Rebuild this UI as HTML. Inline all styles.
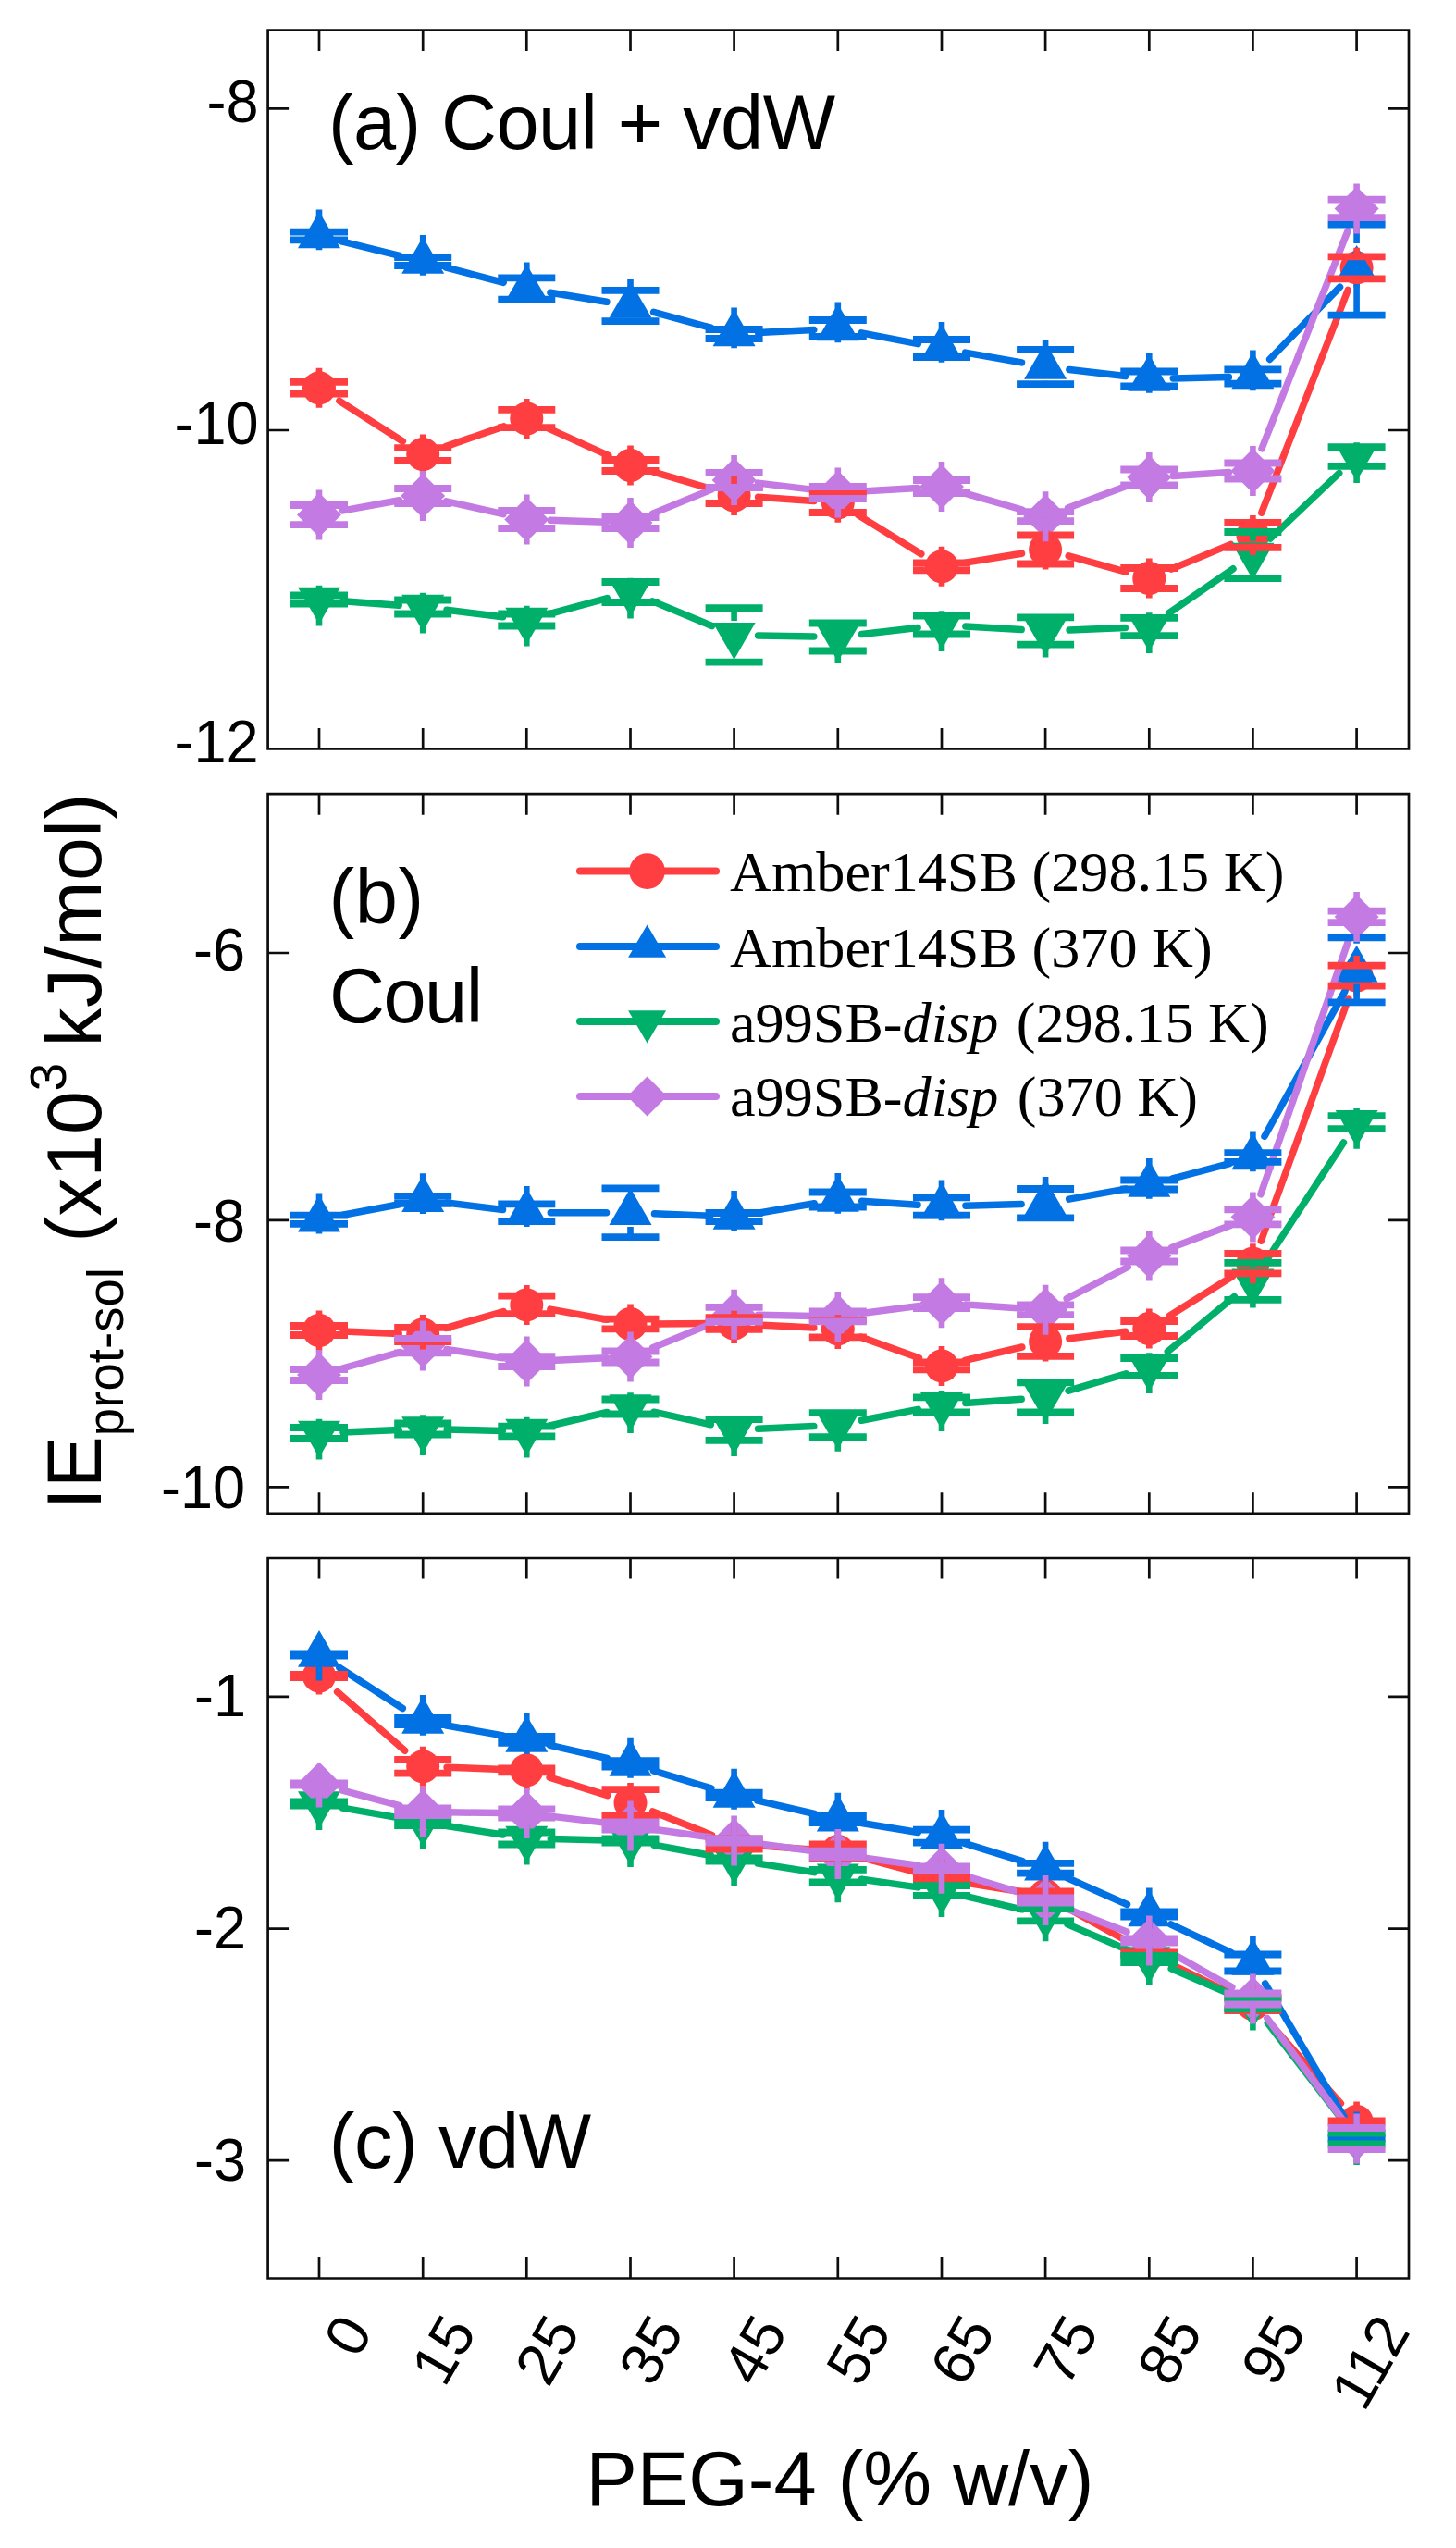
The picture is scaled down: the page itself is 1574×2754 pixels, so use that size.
<!DOCTYPE html>
<html lang="en">
<head>
<meta charset="utf-8">
<title>IE prot-sol vs PEG-4</title>
<style>
html,body{margin:0;padding:0;background:#fff}
body{width:1574px;height:2754px;overflow:hidden}
svg{display:block;filter:blur(0.7px)}
text{font-family:"Liberation Sans",Arial,sans-serif;fill:#000}
.tk{font-size:63px}
.xt{font-size:64px}
.ttl{font-size:83px}
.ax{font-size:83px}
.ay{font-size:84px}
.sub{font-size:54.6px}
.leg{font-family:"Liberation Serif","Times New Roman",serif;font-size:62.2px}
</style>
</head>
<body>
<svg width="1574" height="2754" viewBox="0 0 1574 2754">
<rect width="1574" height="2754" fill="#fff"/>
<g id="panel-a">
<g>
<path d="M366.9 433.3L435.3 477M481.8 482.6L544.7 460.9M593 463.2L657.8 492.3M706.5 510.2L768.7 528.3M819.6 537.3L879.9 541.5M927.9 556.9L995.8 598.7M1043.6 608.1L1104.5 598.2M1155.2 600.9L1217.2 618.1M1266.3 615L1330.4 588.4M1363.8 554.2L1457.2 313.5" stroke="#FE3E40" stroke-width="7.5" fill="none" stroke-linecap="round"/>
<g><circle cx="345" cy="419.3" r="18" fill="#FE3E40"/><circle cx="457.2" cy="491" r="18" fill="#FE3E40"/><circle cx="569.3" cy="452.5" r="18" fill="#FE3E40"/><circle cx="681.5" cy="503" r="18" fill="#FE3E40"/><circle cx="793.6" cy="535.5" r="18" fill="#FE3E40"/><circle cx="905.8" cy="543.3" r="18" fill="#FE3E40"/><circle cx="1018" cy="612.3" r="18" fill="#FE3E40"/><circle cx="1130.1" cy="594" r="18" fill="#FE3E40"/><circle cx="1242.3" cy="625" r="18" fill="#FE3E40"/><circle cx="1354.4" cy="578.4" r="18" fill="#FE3E40"/><circle cx="1466.6" cy="289.3" r="18" fill="#FE3E40"/></g>
<path d="M370.3 261.2L431.9 276.3M482.3 289.1L544.2 305.4M595 316.2L655.8 326.3M706.6 337.3L768.6 354.2M819.6 359.6L879.8 356.4M931.3 359.9L992.4 371.6M1043.6 381.1L1104.5 391.9M1155.9 399.5L1216.5 406.5M1268.3 408.9L1328.4 407.6M1372.6 388.4L1448.5 310.2" stroke="#0171E3" stroke-width="7.5" fill="none" stroke-linecap="round"/>
<g><polygon points="345,228.4 322,268.3 368,268.3" fill="#0171E3"/><polygon points="457.2,255.9 434.2,295.8 480.2,295.8" fill="#0171E3"/><polygon points="569.3,285.4 546.3,325.3 592.3,325.3" fill="#0171E3"/><polygon points="681.5,303.9 658.5,343.8 704.5,343.8" fill="#0171E3"/><polygon points="793.6,334.4 770.6,374.3 816.6,374.3" fill="#0171E3"/><polygon points="905.8,328.4 882.8,368.3 928.8,368.3" fill="#0171E3"/><polygon points="1018,349.9 995,389.8 1041,389.8" fill="#0171E3"/><polygon points="1130.1,369.9 1107.1,409.8 1153.1,409.8" fill="#0171E3"/><polygon points="1242.3,382.9 1219.3,422.8 1265.3,422.8" fill="#0171E3"/><polygon points="1354.4,380.4 1331.4,420.3 1377.4,420.3" fill="#0171E3"/><polygon points="1466.6,265 1443.6,304.9 1489.6,304.9" fill="#0171E3"/></g>
<path d="M370.9 649.8L431.2 654.2M483 659.2L543.5 666.8M594.4 663.3L656.4 646.7M705.5 649.9L769.6 676.5M819.6 686.9L879.8 688M931.6 685.5L992.1 678.5M1043.9 677L1104.2 680.5M1156.1 681L1216.3 678.5M1263.7 662.7L1333 614.8M1373.3 582.1L1447.7 511.4" stroke="#00AF69" stroke-width="7.5" fill="none" stroke-linecap="round"/>
<g><polygon points="345,674.6 322,634.7 368,634.7" fill="#00AF69"/><polygon points="457.2,682.6 434.2,642.7 480.2,642.7" fill="#00AF69"/><polygon points="569.3,696.6 546.3,656.7 592.3,656.7" fill="#00AF69"/><polygon points="681.5,666.6 658.5,626.7 704.5,626.7" fill="#00AF69"/><polygon points="793.6,713 770.6,673.1 816.6,673.1" fill="#00AF69"/><polygon points="905.8,715.1 882.8,675.2 928.8,675.2" fill="#00AF69"/><polygon points="1018,702.1 995,662.2 1041,662.2" fill="#00AF69"/><polygon points="1130.1,708.6 1107.1,668.7 1153.1,668.7" fill="#00AF69"/><polygon points="1242.3,704.1 1219.3,664.2 1265.3,664.2" fill="#00AF69"/><polygon points="1354.4,626.6 1331.4,586.7 1377.4,586.7" fill="#00AF69"/><polygon points="1466.6,520.1 1443.6,480.2 1489.6,480.2" fill="#00AF69"/></g>
<path d="M370.6 551.9L431.6 540.7M482.5 541.8L544 555.7M595.3 562.3L655.5 564.2M705.5 555.1L769.6 528.9M819.5 522.1L880 529.4M931.8 531L992 527.5M1043 533.2L1105.1 551M1154.5 549L1217.9 525.2M1268.2 514.4L1328.5 510.6M1364 484.8L1457 249.6" stroke="#C37AE2" stroke-width="7.5" fill="none" stroke-linecap="round"/>
<g><polygon points="345,532.6 369,556.6 345,580.6 321,556.6" fill="#C37AE2"/><polygon points="457.2,512 481.2,536 457.2,560 433.2,536" fill="#C37AE2"/><polygon points="569.3,537.5 593.3,561.5 569.3,585.5 545.3,561.5" fill="#C37AE2"/><polygon points="681.5,541 705.5,565 681.5,589 657.5,565" fill="#C37AE2"/><polygon points="793.6,495 817.6,519 793.6,543 769.6,519" fill="#C37AE2"/><polygon points="905.8,508.5 929.8,532.5 905.8,556.5 881.8,532.5" fill="#C37AE2"/><polygon points="1018,502 1042,526 1018,550 994,526" fill="#C37AE2"/><polygon points="1130.1,534.2 1154.1,558.2 1130.1,582.2 1106.1,558.2" fill="#C37AE2"/><polygon points="1242.3,492 1266.3,516 1242.3,540 1218.3,516" fill="#C37AE2"/><polygon points="1354.4,485 1378.4,509 1354.4,533 1330.4,509" fill="#C37AE2"/><polygon points="1466.6,201.4 1490.6,225.4 1466.6,249.4 1442.6,225.4" fill="#C37AE2"/></g>
<path d="M314 412.9H376M314 425.7H376M426.2 484.2H488.2M426.2 497.8H488.2M538.3 442.9H600.3M538.3 462.1H600.3M650.5 497H712.5M650.5 509H712.5M762.6 527H824.6M762.6 544H824.6M874.8 532.6H936.8M874.8 554H936.8M987 608.3H1049M987 616.3H1049M1099.1 578.5H1161.1M1099.1 609.5H1161.1M1211.3 614H1273.3M1211.3 636H1273.3M1323.4 565H1385.4M1323.4 591.8H1385.4M1435.6 277.3H1497.6M1435.6 301.3H1497.6" stroke="#FE3E40" stroke-width="7.8" fill="none"/>
<path d="M345 412.9V397.8M345 425.7V440.8M457.2 484.2V469.5M457.2 497.8V512.5M569.3 442.9V431M569.3 462.1V474M681.5 497V481.5M681.5 509V524.5M793.6 527V514M793.6 544V557M905.8 532.6V521.8M905.8 554V564.8M1018 608.3V590.8M1018 616.3V633.8M1130.1 578.5V572.5M1130.1 609.5V615.5M1242.3 614V603.5M1242.3 636V646.5M1354.4 565V556.9M1354.4 591.8V599.9M1466.6 277.3V267.8M1466.6 301.3V310.8" stroke="#FE3E40" stroke-width="6.6" fill="none"/>
<path d="M314 250.7H376M314 259.3H376M426.2 278H488.2M426.2 287H488.2M538.3 300.4H600.3M538.3 323.6H600.3M650.5 313.9H712.5M650.5 347.1H712.5M762.6 356H824.6M762.6 366H824.6M874.8 346H936.8M874.8 364H936.8M987 367H1049M987 386H1049M1099.1 377.8H1161.1M1099.1 415.2H1161.1M1211.3 401.5H1273.3M1211.3 417.5H1273.3M1323.4 399.3H1385.4M1323.4 414.7H1385.4M1435.6 242.6H1497.6M1435.6 340.6H1497.6" stroke="#0171E3" stroke-width="7.8" fill="none"/>
<path d="M345 250.7V226.4M345 259.3V270.3M457.2 278V253.9M457.2 287V297.8M569.3 300.4V283.4M569.3 323.6V327.3M681.5 313.9V301.9M681.5 347.1V345.8M793.6 356V332.4M793.6 366V376.3M905.8 346V326.4M905.8 364V370.3M1018 367V347.9M1018 386V391.8M1130.1 377.8V367.9M1130.1 415.2V411.8M1242.3 401.5V380.9M1242.3 417.5V424.8M1354.4 399.3V378.4M1354.4 414.7V422.3M1466.6 242.6V263M1466.6 340.6V306.9" stroke="#0171E3" stroke-width="6.6" fill="none"/>
<path d="M314 643.5H376M314 652.5H376M426.2 648.5H488.2M426.2 663.5H488.2M538.3 663.5H600.3M538.3 676.5H600.3M650.5 629H712.5M650.5 651H712.5M762.6 657.1H824.6M762.6 715.7H824.6M874.8 673.5H936.8M874.8 703.5H936.8M987 665.5H1049M987 685.5H1049M1099.1 667.4H1161.1M1099.1 696.6H1161.1M1211.3 667.9H1273.3M1211.3 687.1H1273.3M1323.4 575H1385.4M1323.4 625H1385.4M1435.6 483.1H1497.6M1435.6 503.9H1497.6" stroke="#00AF69" stroke-width="7.8" fill="none"/>
<path d="M345 643.5V632.7M345 652.5V676.6M457.2 648.5V640.7M457.2 663.5V684.6M569.3 663.5V654.7M569.3 676.5V698.6M681.5 629V624.7M681.5 651V668.6M793.6 657.1V671.1M793.6 715.7V715M905.8 673.5V673.2M905.8 703.5V717.1M1018 665.5V660.2M1018 685.5V704.1M1130.1 667.4V666.7M1130.1 696.6V710.6M1242.3 667.9V662.2M1242.3 687.1V706.1M1354.4 575V584.7M1354.4 625V628.6M1466.6 483.1V478.2M1466.6 503.9V522.1" stroke="#00AF69" stroke-width="6.6" fill="none"/>
<path d="M314 546H376M314 567.2H376M426.2 528H488.2M426.2 544H488.2M538.3 552H600.3M538.3 571H600.3M650.5 559H712.5M650.5 571H712.5M762.6 511H824.6M762.6 527H824.6M874.8 526H936.8M874.8 539H936.8M987 519H1049M987 533H1049M1099.1 553.2H1161.1M1099.1 563.2H1161.1M1211.3 507.5H1273.3M1211.3 524.5H1273.3M1323.4 500.5H1385.4M1323.4 517.5H1385.4M1435.6 215.6H1497.6M1435.6 235.2H1497.6" stroke="#C37AE2" stroke-width="7.8" fill="none"/>
<path d="M345 546V529.6M345 567.2V583.6M457.2 528V509M457.2 544V563M569.3 552V534.5M569.3 571V588.5M681.5 559V538M681.5 571V592M793.6 511V492M793.6 527V546M905.8 526V505.5M905.8 539V559.5M1018 519V499M1018 533V553M1130.1 553.2V531.2M1130.1 563.2V585.2M1242.3 507.5V489M1242.3 524.5V543M1354.4 500.5V482M1354.4 517.5V536M1466.6 215.6V198.4M1466.6 235.2V252.4" stroke="#C37AE2" stroke-width="6.6" fill="none"/>
</g>
<path d="M289.6 32.5H1523V809.4H289.6ZM345 32.5v22.5M345 809.4v-22.5M457.2 32.5v22.5M457.2 809.4v-22.5M569.3 32.5v22.5M569.3 809.4v-22.5M681.5 32.5v22.5M681.5 809.4v-22.5M793.6 32.5v22.5M793.6 809.4v-22.5M905.8 32.5v22.5M905.8 809.4v-22.5M1018 32.5v22.5M1018 809.4v-22.5M1130.1 32.5v22.5M1130.1 809.4v-22.5M1242.3 32.5v22.5M1242.3 809.4v-22.5M1354.4 32.5v22.5M1354.4 809.4v-22.5M1466.6 32.5v22.5M1466.6 809.4v-22.5M289.6 117.4h22.5M1523 117.4h-22.5M289.6 465h22.5M1523 465h-22.5" stroke="#0d0d0d" stroke-width="2.7" fill="none" stroke-linejoin="miter"/>
<text transform="translate(279.5 132) scale(1 1.03)" class="tk" text-anchor="end">-8</text>
<text transform="translate(279.5 479.5) scale(1 1.03)" class="tk" text-anchor="end">-10</text>
<text transform="translate(279.5 823.8) scale(1 1.03)" class="tk" text-anchor="end">-12</text>
</g>
<g id="panel-b">
<g>
<path d="M371 1439L431.2 1441.5M482.2 1435.3L544.3 1417.6M594.9 1415.1L655.9 1426.3M707.5 1430.9L767.6 1430.6M819.6 1431.9L879.8 1435M930.3 1445.1L993.5 1467.7M1043.3 1470.4L1104.8 1456M1155.9 1446.8L1216.5 1439.2M1264.3 1422.2L1332.4 1379.5M1363.3 1341.2L1457.8 1079.1" stroke="#FE3E40" stroke-width="7.5" fill="none" stroke-linecap="round"/>
<g><circle cx="345" cy="1438" r="18" fill="#FE3E40"/><circle cx="457.2" cy="1442.5" r="18" fill="#FE3E40"/><circle cx="569.3" cy="1410.4" r="18" fill="#FE3E40"/><circle cx="681.5" cy="1431" r="18" fill="#FE3E40"/><circle cx="793.6" cy="1430.5" r="18" fill="#FE3E40"/><circle cx="905.8" cy="1436.4" r="18" fill="#FE3E40"/><circle cx="1018" cy="1476.4" r="18" fill="#FE3E40"/><circle cx="1130.1" cy="1450" r="18" fill="#FE3E40"/><circle cx="1242.3" cy="1436" r="18" fill="#FE3E40"/><circle cx="1354.4" cy="1365.7" r="18" fill="#FE3E40"/><circle cx="1466.6" cy="1054.6" r="18" fill="#FE3E40"/></g>
<path d="M370.5 1313.3L431.6 1301.7M483 1300L543.5 1307.5M595.3 1310.7L655.5 1310.7M707.5 1311.8L767.7 1314.4M819.3 1311.2L880.2 1300.8M931.7 1298.2L992 1302.3M1043.9 1303.2L1104.1 1301.5M1155.7 1296.1L1216.7 1285.1M1267.4 1273.9L1329.3 1257.6M1367 1228.3L1454 1071.1" stroke="#0171E3" stroke-width="7.5" fill="none" stroke-linecap="round"/>
<g><polygon points="345,1291.6 322,1331.5 368,1331.5" fill="#0171E3"/><polygon points="457.2,1270.2 434.2,1310.1 480.2,1310.1" fill="#0171E3"/><polygon points="569.3,1284.1 546.3,1324 592.3,1324" fill="#0171E3"/><polygon points="681.5,1284.1 658.5,1324 704.5,1324" fill="#0171E3"/><polygon points="793.6,1288.9 770.6,1328.8 816.6,1328.8" fill="#0171E3"/><polygon points="905.8,1269.9 882.8,1309.8 928.8,1309.8" fill="#0171E3"/><polygon points="1018,1277.4 995,1317.3 1041,1317.3" fill="#0171E3"/><polygon points="1130.1,1274.1 1107.1,1314 1153.1,1314" fill="#0171E3"/><polygon points="1242.3,1253.9 1219.3,1293.8 1265.3,1293.8" fill="#0171E3"/><polygon points="1354.4,1224.4 1331.4,1264.3 1377.4,1264.3" fill="#0171E3"/><polygon points="1466.6,1021.8 1443.6,1061.7 1489.6,1061.7" fill="#0171E3"/></g>
<path d="M371 1548L431.2 1545.5M483.2 1545.1L543.3 1546.4M594.6 1541L656.2 1526.5M706.9 1526.2L768.3 1539.8M819.6 1544.3L879.8 1541.4M931.3 1535.2L992.4 1523.4M1043.9 1516.6L1104.2 1512.2M1155.1 1503.1L1217.3 1484.8M1262.3 1460.9L1334.4 1401.4M1368.7 1363L1452.4 1235" stroke="#00AF69" stroke-width="7.5" fill="none" stroke-linecap="round"/>
<g><polygon points="345,1575.6 322,1535.7 368,1535.7" fill="#00AF69"/><polygon points="457.2,1571.1 434.2,1531.2 480.2,1531.2" fill="#00AF69"/><polygon points="569.3,1573.6 546.3,1533.7 592.3,1533.7" fill="#00AF69"/><polygon points="681.5,1547.1 658.5,1507.2 704.5,1507.2" fill="#00AF69"/><polygon points="793.6,1572.1 770.6,1532.2 816.6,1532.2" fill="#00AF69"/><polygon points="905.8,1566.8 882.8,1526.9 928.8,1526.9" fill="#00AF69"/><polygon points="1018,1545 995,1505.1 1041,1505.1" fill="#00AF69"/><polygon points="1130.1,1537 1107.1,1497.1 1153.1,1497.1" fill="#00AF69"/><polygon points="1242.3,1504.1 1219.3,1464.2 1265.3,1464.2" fill="#00AF69"/><polygon points="1354.4,1411.4 1331.4,1371.5 1377.4,1371.5" fill="#00AF69"/><polygon points="1466.6,1239.8 1443.6,1199.9 1489.6,1199.9" fill="#00AF69"/></g>
<path d="M370 1479L432.1 1461.6M482.9 1458.5L543.6 1467.7M595.3 1470.4L655.5 1467.7M705.6 1456.7L769.6 1430.5M819.6 1421.2L879.8 1422.4M931.6 1419.5L992.2 1411.6M1043.9 1409.9L1104.2 1414M1153.2 1403.7L1219.2 1369.5M1266.6 1348.4L1330.1 1324.5M1362.9 1290.8L1458.1 1015.5" stroke="#C37AE2" stroke-width="7.5" fill="none" stroke-linecap="round"/>
<g><polygon points="345,1462 369,1486 345,1510 321,1486" fill="#C37AE2"/><polygon points="457.2,1430.6 481.2,1454.6 457.2,1478.6 433.2,1454.6" fill="#C37AE2"/><polygon points="569.3,1447.6 593.3,1471.6 569.3,1495.6 545.3,1471.6" fill="#C37AE2"/><polygon points="681.5,1442.5 705.5,1466.5 681.5,1490.5 657.5,1466.5" fill="#C37AE2"/><polygon points="793.6,1396.7 817.6,1420.7 793.6,1444.7 769.6,1420.7" fill="#C37AE2"/><polygon points="905.8,1398.9 929.8,1422.9 905.8,1446.9 881.8,1422.9" fill="#C37AE2"/><polygon points="1018,1384.2 1042,1408.2 1018,1432.2 994,1408.2" fill="#C37AE2"/><polygon points="1130.1,1391.7 1154.1,1415.7 1130.1,1439.7 1106.1,1415.7" fill="#C37AE2"/><polygon points="1242.3,1333.5 1266.3,1357.5 1242.3,1381.5 1218.3,1357.5" fill="#C37AE2"/><polygon points="1354.4,1291.4 1378.4,1315.4 1354.4,1339.4 1330.4,1315.4" fill="#C37AE2"/><polygon points="1466.6,966.9 1490.6,990.9 1466.6,1014.9 1442.6,990.9" fill="#C37AE2"/></g>
<path d="M314 1433H376M314 1443H376M426.2 1434.9H488.2M426.2 1450.1H488.2M538.3 1400.6H600.3M538.3 1420.2H600.3M650.5 1425.6H712.5M650.5 1436.4H712.5M762.6 1424.2H824.6M762.6 1436.8H824.6M874.8 1427.4H936.8M874.8 1445.4H936.8M987 1472.4H1049M987 1480.4H1049M1099.1 1434.2H1161.1M1099.1 1465.8H1161.1M1211.3 1428H1273.3M1211.3 1444H1273.3M1323.4 1355H1385.4M1323.4 1376.4H1385.4M1435.6 1043.6H1497.6M1435.6 1065.6H1497.6" stroke="#FE3E40" stroke-width="7.8" fill="none"/>
<path d="M345 1433V1416.5M345 1443V1459.5M457.2 1434.9V1421M457.2 1450.1V1464M569.3 1400.6V1388.9M569.3 1420.2V1431.9M681.5 1425.6V1409.5M681.5 1436.4V1452.5M793.6 1424.2V1409M793.6 1436.8V1452M905.8 1427.4V1414.9M905.8 1445.4V1457.9M1018 1472.4V1454.9M1018 1480.4V1497.9M1130.1 1434.2V1428.5M1130.1 1465.8V1471.5M1242.3 1428V1414.5M1242.3 1444V1457.5M1354.4 1355V1344.2M1354.4 1376.4V1387.2M1466.6 1043.6V1033.1M1466.6 1065.6V1076.1" stroke="#FE3E40" stroke-width="6.6" fill="none"/>
<path d="M314 1313.6H376M314 1322.8H376M426.2 1292.8H488.2M426.2 1300.8H488.2M538.3 1301.4H600.3M538.3 1320H600.3M650.5 1284.3H712.5M650.5 1337.1H712.5M762.6 1311H824.6M762.6 1320H824.6M874.8 1288.5H936.8M874.8 1304.5H936.8M987 1294.4H1049M987 1313.6H1049M1099.1 1285H1161.1M1099.1 1316.4H1161.1M1211.3 1275.5H1273.3M1211.3 1285.5H1273.3M1323.4 1246.2H1385.4M1323.4 1255.8H1385.4M1435.6 1013.4H1497.6M1435.6 1083.4H1497.6" stroke="#0171E3" stroke-width="7.8" fill="none"/>
<path d="M345 1313.6V1289.6M345 1322.8V1333.5M457.2 1292.8V1268.2M457.2 1300.8V1312.1M569.3 1301.4V1282.1M569.3 1320V1326M681.5 1284.3V1282.1M681.5 1337.1V1326M793.6 1311V1286.9M793.6 1320V1330.8M905.8 1288.5V1267.9M905.8 1304.5V1311.8M1018 1294.4V1275.4M1018 1313.6V1319.3M1130.1 1285V1272.1M1130.1 1316.4V1316M1242.3 1275.5V1251.9M1242.3 1285.5V1295.8M1354.4 1246.2V1222.4M1354.4 1255.8V1266.3M1466.6 1013.4V1019.8M1466.6 1083.4V1063.7" stroke="#0171E3" stroke-width="6.6" fill="none"/>
<path d="M314 1543H376M314 1555H376M426.2 1538.5H488.2M426.2 1550.5H488.2M538.3 1541.6H600.3M538.3 1552.4H600.3M650.5 1512.5H712.5M650.5 1528.5H712.5M762.6 1534.2H824.6M762.6 1556.8H824.6M874.8 1527.2H936.8M874.8 1553.2H936.8M987 1510.4H1049M987 1526.4H1049M1099.1 1494.4H1161.1M1099.1 1526.4H1161.1M1211.3 1468H1273.3M1211.3 1487H1273.3M1323.4 1364.8H1385.4M1323.4 1404.8H1385.4M1435.6 1206.2H1497.6M1435.6 1220.2H1497.6" stroke="#00AF69" stroke-width="7.8" fill="none"/>
<path d="M345 1543V1533.7M345 1555V1577.6M457.2 1538.5V1529.2M457.2 1550.5V1573.1M569.3 1541.6V1531.7M569.3 1552.4V1575.6M681.5 1512.5V1505.2M681.5 1528.5V1549.1M793.6 1534.2V1530.2M793.6 1556.8V1574.1M905.8 1527.2V1524.9M905.8 1553.2V1568.8M1018 1510.4V1503.1M1018 1526.4V1547M1130.1 1494.4V1495.1M1130.1 1526.4V1539M1242.3 1468V1462.2M1242.3 1487V1506.1M1354.4 1364.8V1369.5M1354.4 1404.8V1413.4M1466.6 1206.2V1197.9M1466.6 1220.2V1241.8" stroke="#00AF69" stroke-width="6.6" fill="none"/>
<path d="M314 1480H376M314 1492H376M426.2 1446.9H488.2M426.2 1462.3H488.2M538.3 1466.2H600.3M538.3 1477H600.3M650.5 1460.5H712.5M650.5 1472.5H712.5M762.6 1412.8H824.6M762.6 1428.6H824.6M874.8 1417.4H936.8M874.8 1428.4H936.8M987 1402.2H1049M987 1414.2H1049M1099.1 1410.3H1161.1M1099.1 1421.1H1161.1M1211.3 1351.5H1273.3M1211.3 1363.5H1273.3M1323.4 1307.4H1385.4M1323.4 1323.4H1385.4M1435.6 984.6H1497.6M1435.6 997.1H1497.6" stroke="#C37AE2" stroke-width="7.8" fill="none"/>
<path d="M345 1480V1459M345 1492V1513M457.2 1446.9V1427.6M457.2 1462.3V1481.6M569.3 1466.2V1444.6M569.3 1477V1498.6M681.5 1460.5V1439.5M681.5 1472.5V1493.5M793.6 1412.8V1393.7M793.6 1428.6V1447.7M905.8 1417.4V1395.9M905.8 1428.4V1449.9M1018 1402.2V1381.2M1018 1414.2V1435.2M1130.1 1410.3V1388.7M1130.1 1421.1V1442.7M1242.3 1351.5V1330.5M1242.3 1363.5V1384.5M1354.4 1307.4V1288.4M1354.4 1323.4V1342.4M1466.6 984.6V963.9M1466.6 997.1V1017.9" stroke="#C37AE2" stroke-width="6.6" fill="none"/>
</g>
<path d="M289.6 858.2H1523V1635.8H289.6ZM345 858.2v22.5M345 1635.8v-22.5M457.2 858.2v22.5M457.2 1635.8v-22.5M569.3 858.2v22.5M569.3 1635.8v-22.5M681.5 858.2v22.5M681.5 1635.8v-22.5M793.6 858.2v22.5M793.6 1635.8v-22.5M905.8 858.2v22.5M905.8 1635.8v-22.5M1018 858.2v22.5M1018 1635.8v-22.5M1130.1 858.2v22.5M1130.1 1635.8v-22.5M1242.3 858.2v22.5M1242.3 1635.8v-22.5M1354.4 858.2v22.5M1354.4 1635.8v-22.5M1466.6 858.2v22.5M1466.6 1635.8v-22.5M289.6 1030h22.5M1523 1030h-22.5M289.6 1318.8h22.5M1523 1318.8h-22.5M289.6 1607.4h22.5M1523 1607.4h-22.5" stroke="#0d0d0d" stroke-width="2.7" fill="none" stroke-linejoin="miter"/>
<text transform="translate(265 1049) scale(1 1.03)" class="tk" text-anchor="end">-6</text>
<text transform="translate(265 1341.5) scale(1 1.03)" class="tk" text-anchor="end">-8</text>
<text transform="translate(265 1630) scale(1 1.03)" class="tk" text-anchor="end">-10</text>
</g>
<g id="panel-c">
<g>
<path d="M364.6 1828.6L437.6 1892.2M483.1 1910.2L543.3 1912.4M594.1 1921.1L656.7 1940.6M705.6 1958L769.5 1983.4M819.6 1994.8L879.9 1999.2M930.9 2007.7L992.8 2024.1M1043.6 2035L1104.5 2044.8M1152.8 2061.7L1219.6 2098.8M1265.7 2122.9L1331.1 2154.6M1371.7 2185.5L1449.4 2273.5" stroke="#FE3E40" stroke-width="7.5" fill="none" stroke-linecap="round"/>
<g><circle cx="345" cy="1811.5" r="18" fill="#FE3E40"/><circle cx="457.2" cy="1909.3" r="18" fill="#FE3E40"/><circle cx="569.3" cy="1913.3" r="18" fill="#FE3E40"/><circle cx="681.5" cy="1948.4" r="18" fill="#FE3E40"/><circle cx="793.6" cy="1993" r="18" fill="#FE3E40"/><circle cx="905.8" cy="2001" r="18" fill="#FE3E40"/><circle cx="1018" cy="2030.8" r="18" fill="#FE3E40"/><circle cx="1130.1" cy="2049" r="18" fill="#FE3E40"/><circle cx="1242.3" cy="2111.5" r="18" fill="#FE3E40"/><circle cx="1354.4" cy="2166" r="18" fill="#FE3E40"/><circle cx="1466.6" cy="2293" r="18" fill="#FE3E40"/></g>
<path d="M366.9 1802.5L435.3 1846.5M482.8 1865L543.7 1875.9M594.6 1886.3L656.2 1900.5M706.4 1913.9L768.8 1932.9M819 1946.2L880.5 1960.5M931.5 1970.5L992.3 1980.5M1042.8 1992.4L1105.3 2011.6M1153.9 2029.8L1218.5 2058.5M1265.8 2080L1330.9 2110.5M1367.7 2143.9L1453.4 2288.6" stroke="#0171E3" stroke-width="7.5" fill="none" stroke-linecap="round"/>
<g><polygon points="345,1761.9 322,1801.8 368,1801.8" fill="#0171E3"/><polygon points="457.2,1833.9 434.2,1873.8 480.2,1873.8" fill="#0171E3"/><polygon points="569.3,1853.8 546.3,1893.7 592.3,1893.7" fill="#0171E3"/><polygon points="681.5,1879.8 658.5,1919.7 704.5,1919.7" fill="#0171E3"/><polygon points="793.6,1913.8 770.6,1953.7 816.6,1953.7" fill="#0171E3"/><polygon points="905.8,1939.7 882.8,1979.6 928.8,1979.6" fill="#0171E3"/><polygon points="1018,1958.1 995,1998 1041,1998" fill="#0171E3"/><polygon points="1130.1,1992.7 1107.1,2032.6 1153.1,2032.6" fill="#0171E3"/><polygon points="1242.3,2042.4 1219.3,2082.3 1265.3,2082.3" fill="#0171E3"/><polygon points="1354.4,2094.9 1331.4,2134.8 1377.4,2134.8" fill="#0171E3"/><polygon points="1466.6,2284.4 1443.6,2324.3 1489.6,2324.3" fill="#0171E3"/></g>
<path d="M370.6 1954.1L431.6 1964.9M482.8 1973.5L543.6 1983M595.3 1987.6L655.5 1988.9M707.1 1994.2L768.1 2005.3M819.3 2014.1L880.1 2023.6M931.5 2031.3L992.2 2039.9M1043.3 2049.4L1104.8 2063.8M1154 2079.9L1218.4 2107.3M1266.2 2127.8L1330.6 2155.5M1370.3 2186.4L1450.7 2290.9" stroke="#00AF69" stroke-width="7.5" fill="none" stroke-linecap="round"/>
<g><polygon points="345,1976.1 322,1936.2 368,1936.2" fill="#00AF69"/><polygon points="457.2,1996.1 434.2,1956.2 480.2,1956.2" fill="#00AF69"/><polygon points="569.3,2013.6 546.3,1973.7 592.3,1973.7" fill="#00AF69"/><polygon points="681.5,2016.1 658.5,1976.2 704.5,1976.2" fill="#00AF69"/><polygon points="793.6,2036.6 770.6,1996.7 816.6,1996.7" fill="#00AF69"/><polygon points="905.8,2054.3 882.8,2014.4 928.8,2014.4" fill="#00AF69"/><polygon points="1018,2070.1 995,2030.2 1041,2030.2" fill="#00AF69"/><polygon points="1130.1,2096.3 1107.1,2056.4 1153.1,2056.4" fill="#00AF69"/><polygon points="1242.3,2144.1 1219.3,2104.2 1265.3,2104.2" fill="#00AF69"/><polygon points="1354.4,2192.4 1331.4,2152.5 1377.4,2152.5" fill="#00AF69"/><polygon points="1466.6,2338.1 1443.6,2298.2 1489.6,2298.2" fill="#00AF69"/></g>
<path d="M370.1 1935.2L432 1951.6M483.2 1958.7L543.3 1959.6M595.1 1963.1L655.7 1970.4M707.2 1977.2L767.9 1985.8M819.4 1992.8L880 2000.7M931.5 2007.6L992.2 2016.1M1042.8 2027.3L1105.3 2046.4M1154.4 2063.4L1218 2088.1M1264.9 2110.2L1331.8 2147.8M1369.9 2181.4L1451.1 2290.6" stroke="#C37AE2" stroke-width="7.5" fill="none" stroke-linecap="round"/>
<g><polygon points="345,1904.5 369,1928.5 345,1952.5 321,1928.5" fill="#C37AE2"/><polygon points="457.2,1934.3 481.2,1958.3 457.2,1982.3 433.2,1958.3" fill="#C37AE2"/><polygon points="569.3,1936 593.3,1960 569.3,1984 545.3,1960" fill="#C37AE2"/><polygon points="681.5,1949.5 705.5,1973.5 681.5,1997.5 657.5,1973.5" fill="#C37AE2"/><polygon points="793.6,1965.5 817.6,1989.5 793.6,2013.5 769.6,1989.5" fill="#C37AE2"/><polygon points="905.8,1980 929.8,2004 905.8,2028 881.8,2004" fill="#C37AE2"/><polygon points="1018,1995.7 1042,2019.7 1018,2043.7 994,2019.7" fill="#C37AE2"/><polygon points="1130.1,2030 1154.1,2054 1130.1,2078 1106.1,2054" fill="#C37AE2"/><polygon points="1242.3,2073.5 1266.3,2097.5 1242.3,2121.5 1218.3,2097.5" fill="#C37AE2"/><polygon points="1354.4,2136.5 1378.4,2160.5 1354.4,2184.5 1330.4,2160.5" fill="#C37AE2"/><polygon points="1466.6,2287.5 1490.6,2311.5 1466.6,2335.5 1442.6,2311.5" fill="#C37AE2"/></g>
<path d="M314 1810H376M314 1813H376M426.2 1901.9H488.2M426.2 1916.7H488.2M538.3 1911.3H600.3M538.3 1915.3H600.3M650.5 1934.2H712.5M650.5 1962.6H712.5M762.6 1987.5H824.6M762.6 1998.5H824.6M874.8 1993.5H936.8M874.8 2008.5H936.8M987 2027.8H1049M987 2033.8H1049M1099.1 2044.4H1161.1M1099.1 2053.6H1161.1M1211.3 2110.5H1273.3M1211.3 2112.5H1273.3M1323.4 2159H1385.4M1323.4 2173H1385.4M1435.6 2292.5H1497.6M1435.6 2293.5H1497.6" stroke="#FE3E40" stroke-width="7.8" fill="none"/>
<path d="M345 1810V1799.5M345 1813V1831.5M457.2 1901.9V1887.8M457.2 1916.7V1930.8M569.3 1911.3V1891.8M569.3 1915.3V1934.8M681.5 1934.2V1926.9M681.5 1962.6V1969.9M793.6 1987.5V1971.5M793.6 1998.5V2014.5M905.8 1993.5V1979.5M905.8 2008.5V2022.5M1018 2027.8V2009.3M1018 2033.8V2052.3M1130.1 2044.4V2027.5M1130.1 2053.6V2070.5M1242.3 2110.5V2090M1242.3 2112.5V2133M1354.4 2159V2144.5M1354.4 2173V2187.5M1466.6 2292.5V2271.5M1466.6 2293.5V2314.5" stroke="#FE3E40" stroke-width="6.6" fill="none"/>
<path d="M314 1787.5H376M314 1789.5H376M426.2 1857H488.2M426.2 1864H488.2M538.3 1876.9H600.3M538.3 1883.9H600.3M650.5 1903.1H712.5M650.5 1909.7H712.5M762.6 1937.7H824.6M762.6 1943.1H824.6M874.8 1962.4H936.8M874.8 1970.2H936.8M987 1977.7H1049M987 1991.7H1049M1099.1 2013.9H1161.1M1099.1 2024.7H1161.1M1211.3 2066.3H1273.3M1211.3 2071.7H1273.3M1323.4 2112.5H1385.4M1323.4 2130.5H1385.4M1435.6 2310.5H1497.6M1435.6 2311.5H1497.6" stroke="#0171E3" stroke-width="7.8" fill="none"/>
<path d="M345 1787.5V1776.5M345 1789.5V1816.5M457.2 1857V1831.9M457.2 1864V1875.8M569.3 1876.9V1851.8M569.3 1883.9V1895.7M681.5 1903.1V1877.8M681.5 1909.7V1921.7M793.6 1937.7V1911.8M793.6 1943.1V1955.7M905.8 1962.4V1937.7M905.8 1970.2V1981.6M1018 1977.7V1956.1M1018 1991.7V2000M1130.1 2013.9V1990.7M1130.1 2024.7V2034.6M1242.3 2066.3V2040.4M1242.3 2071.7V2084.3M1354.4 2112.5V2092.9M1354.4 2130.5V2136.8M1466.6 2310.5V2282.4M1466.6 2311.5V2326.3" stroke="#0171E3" stroke-width="6.6" fill="none"/>
<path d="M314 1947.5H376M314 1951.5H376M426.2 1965.8H488.2M426.2 1973.2H488.2M538.3 1980.5H600.3M538.3 1993.5H600.3M650.5 1987.5H712.5M650.5 1991.5H712.5M762.6 2008.5H824.6M762.6 2011.5H824.6M874.8 2020.9H936.8M874.8 2034.5H936.8M987 2038.1H1049M987 2048.9H1049M1099.1 2063.1H1161.1M1099.1 2076.3H1161.1M1211.3 2114H1273.3M1211.3 2121H1273.3M1323.4 2160.3H1385.4M1323.4 2171.3H1385.4M1435.6 2305.5H1497.6M1435.6 2317.5H1497.6" stroke="#00AF69" stroke-width="7.8" fill="none"/>
<path d="M345 1947.5V1941.5M345 1951.5V1978.1M457.2 1965.8V1954.2M457.2 1973.2V1998.1M569.3 1980.5V1971.7M569.3 1993.5V2015.6M681.5 1987.5V1974.2M681.5 1991.5V2018.1M793.6 2008.5V1994.7M793.6 2011.5V2038.6M905.8 2020.9V2012.4M905.8 2034.5V2056.3M1018 2038.1V2028.2M1018 2048.9V2072.1M1130.1 2063.1V2054.4M1130.1 2076.3V2098.3M1242.3 2114V2102.2M1242.3 2121V2146.1M1354.4 2160.3V2150.5M1354.4 2171.3V2194.4M1466.6 2305.5V2296.2M1466.6 2317.5V2340.1" stroke="#00AF69" stroke-width="6.6" fill="none"/>
<path d="M314 1927.5H376M314 1929.5H376M426.2 1954.4H488.2M426.2 1962.2H488.2M538.3 1955.5H600.3M538.3 1964.5H600.3M650.5 1969.5H712.5M650.5 1977.5H712.5M762.6 1987.5H824.6M762.6 1991.5H824.6M874.8 2000.7H936.8M874.8 2007.3H936.8M987 2017.5H1049M987 2021.9H1049M1099.1 2051.4H1161.1M1099.1 2056.6H1161.1M1211.3 2095.3H1273.3M1211.3 2099.7H1273.3M1323.4 2154.5H1385.4M1323.4 2166.5H1385.4M1435.6 2300H1497.6M1435.6 2323H1497.6" stroke="#C37AE2" stroke-width="7.8" fill="none"/>
<path d="M345 1927.5V1916.5M345 1929.5V1953.5M457.2 1954.4V1931.3M457.2 1962.2V1985.3M569.3 1955.5V1933M569.3 1964.5V1987M681.5 1969.5V1946.5M681.5 1977.5V2000.5M793.6 1987.5V1962.5M793.6 1991.5V2016.5M905.8 2000.7V1977M905.8 2007.3V2031M1018 2017.5V1992.7M1018 2021.9V2046.7M1130.1 2051.4V2027M1130.1 2056.6V2081M1242.3 2095.3V2070.5M1242.3 2099.7V2124.5M1354.4 2154.5V2133.5M1354.4 2166.5V2187.5M1466.6 2300V2284.5M1466.6 2323V2338.5" stroke="#C37AE2" stroke-width="6.6" fill="none"/>
</g>
<path d="M289.6 1684H1523V2462.5H289.6ZM345 1684v22.5M345 2462.5v-22.5M457.2 1684v22.5M457.2 2462.5v-22.5M569.3 1684v22.5M569.3 2462.5v-22.5M681.5 1684v22.5M681.5 2462.5v-22.5M793.6 1684v22.5M793.6 2462.5v-22.5M905.8 1684v22.5M905.8 2462.5v-22.5M1018 1684v22.5M1018 2462.5v-22.5M1130.1 1684v22.5M1130.1 2462.5v-22.5M1242.3 1684v22.5M1242.3 2462.5v-22.5M1354.4 1684v22.5M1354.4 2462.5v-22.5M1466.6 1684v22.5M1466.6 2462.5v-22.5M289.6 1833.8h22.5M1523 1833.8h-22.5M289.6 2084.6h22.5M1523 2084.6h-22.5M289.6 2335.2h22.5M1523 2335.2h-22.5" stroke="#0d0d0d" stroke-width="2.7" fill="none" stroke-linejoin="miter"/>
<text transform="translate(266 1854.9) scale(1 1.03)" class="tk" text-anchor="end">-1</text>
<text transform="translate(266 2105.9) scale(1 1.03)" class="tk" text-anchor="end">-2</text>
<text transform="translate(266 2356.5) scale(1 1.03)" class="tk" text-anchor="end">-3</text>
</g>
<text x="355" y="160.5" class="ttl" letter-spacing="-0.6">(a) Coul + vdW</text>
<text x="355.5" y="997.5" class="ttl" letter-spacing="0.6">(b)</text>
<text x="356" y="1104.7" class="ttl" letter-spacing="-1.5">Coul</text>
<text x="355.7" y="2343.4" class="ttl" letter-spacing="-0.4">(c) vdW</text>
<path d="M627 941.6H774" stroke="#FE3E40" stroke-width="8" stroke-linecap="round"/>
<circle cx="699.6" cy="941.6" r="19.3" fill="#FE3E40"/>
<text x="789" y="963.4" class="leg">Amber14SB (298.15 K)</text>
<path d="M627 1023H774" stroke="#0171E3" stroke-width="8" stroke-linecap="round"/>
<polygon points="699.6,999.4 679.1,1034.8 720.1,1034.8" fill="#0171E3"/>
<text x="789" y="1045" class="leg">Amber14SB (370 K)</text>
<path d="M627 1104H774" stroke="#00AF69" stroke-width="8" stroke-linecap="round"/>
<polygon points="699.6,1127.6 679.1,1092.2 720.1,1092.2" fill="#00AF69"/>
<text x="789" y="1125.7" class="leg">a99SB-<tspan font-style="italic">disp</tspan><tspan dx="4"> (298.15 K)</tspan></text>
<path d="M627 1185H774" stroke="#C37AE2" stroke-width="8" stroke-linecap="round"/>
<polygon points="699.6,1163.4 721.2,1185 699.6,1206.6 678,1185" fill="#C37AE2"/>
<text x="789" y="1206.4" class="leg">a99SB-<tspan font-style="italic">disp</tspan><tspan dx="5"> (370 K)</tspan></text>
<text transform="translate(404 2520) rotate(-60)" class="xt" text-anchor="end" x="0" y="0">0</text>
<text transform="translate(516.2 2520) rotate(-60)" class="xt" text-anchor="end" x="0" y="0">15</text>
<text transform="translate(628.3 2520) rotate(-60)" class="xt" text-anchor="end" x="0" y="0">25</text>
<text transform="translate(740.5 2520) rotate(-60)" class="xt" text-anchor="end" x="0" y="0">35</text>
<text transform="translate(852.6 2520) rotate(-60)" class="xt" text-anchor="end" x="0" y="0">45</text>
<text transform="translate(964.8 2520) rotate(-60)" class="xt" text-anchor="end" x="0" y="0">55</text>
<text transform="translate(1077 2520) rotate(-60)" class="xt" text-anchor="end" x="0" y="0">65</text>
<text transform="translate(1189.1 2520) rotate(-60)" class="xt" text-anchor="end" x="0" y="0">75</text>
<text transform="translate(1301.3 2520) rotate(-60)" class="xt" text-anchor="end" x="0" y="0">85</text>
<text transform="translate(1413.4 2520) rotate(-60)" class="xt" text-anchor="end" x="0" y="0">95</text>
<text transform="translate(1525.6 2520) rotate(-60)" class="xt" text-anchor="end" x="0" y="0">112</text>
<text x="633.5" y="2707.5" class="ax">PEG-4 (% w/v)</text>
<text transform="translate(108.8 1631.5) rotate(-90)" class="ay">IE<tspan class="sub" dy="24">prot-sol</tspan><tspan dy="-24" dx="4"> (x10</tspan><tspan class="sub" dy="-38">3</tspan><tspan dy="38" dx="-6.5" letter-spacing="0.55"> kJ/mol)</tspan></text>
</svg>
</body>
</html>
